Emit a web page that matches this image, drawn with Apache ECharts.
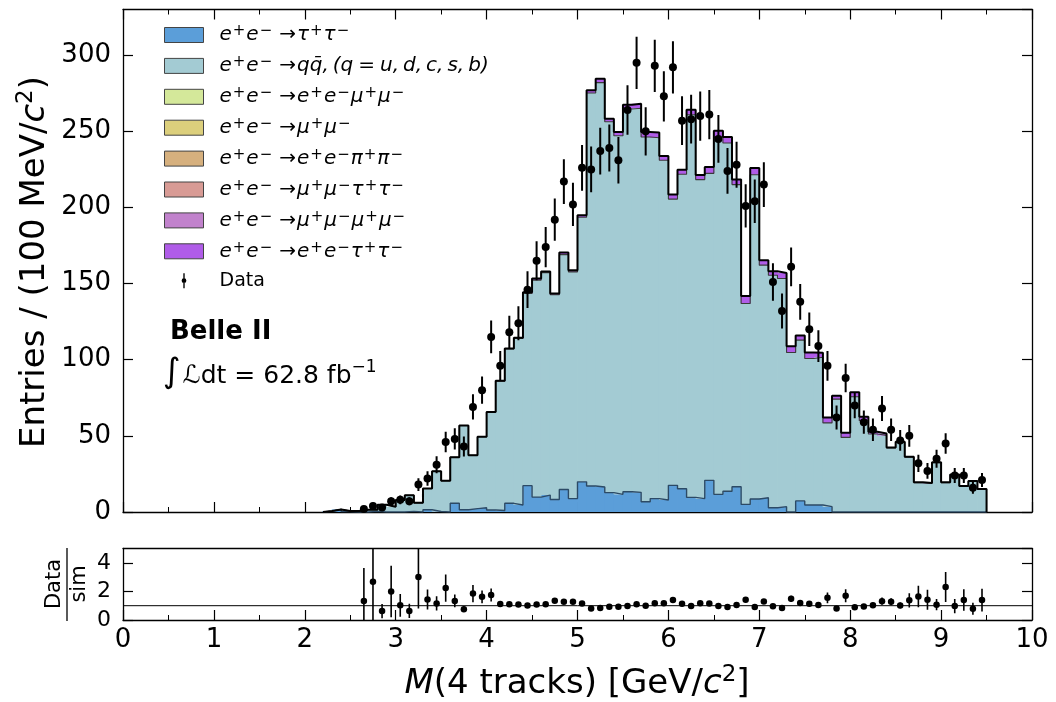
<!DOCTYPE html>
<html><head><meta charset="utf-8">
<script src="https://cdn.jsdelivr.net/npm/echarts@6/dist/echarts.min.js"></script>
<style>html,body{margin:0;padding:0;background:#fff}#c{width:1056px;height:702px}</style>
</head><body><div id="c"></div>
<script>
// ---- bins (lower edges, GeV/c^2), width 0.1 ----
const binLow = [2.2,2.3,2.4,2.5,2.6,2.7,2.8,2.9,
  3.0,3.1,3.2,3.3,3.4,3.5,3.6,3.7,3.8,3.9,
  4.0,4.1,4.2,4.3,4.4,4.5,4.6,4.7,4.8,4.9,
  5.0,5.1,5.2,5.3,5.4,5.5,5.6,5.7,5.8,5.9,
  6.0,6.1,6.2,6.3,6.4,6.5,6.6,6.7,6.8,6.9,
  7.0,7.1,7.2,7.3,7.4,7.5,7.6,7.7,7.8,7.9,
  8.0,8.1,8.2,8.3,8.4,8.5,8.6,8.7,8.8,8.9,
  9.0,9.1,9.2,9.3,9.4];
const binWidth = 0.1;

// ---- simulated components (entries per bin) ----
const tauTau = [0.6,1.7,0.3,0,0,0.4,0,0,
  0,0.4,0,1.5,0.3,0,5.7,1.5,2.2,2.8,
  1.3,1.0,5.7,4.6,17.3,9.8,11.1,8.2,14.8,8.8,
  19.8,17.1,16.4,12.7,11.6,13.3,12.9,6.7,8.8,7.9,
  17.5,15.3,9.6,8.8,20.8,11.6,13.6,16.6,5.0,8.5,
  9.4,2.8,3.5,0,7.3,4.6,4.6,3.5,0,0,
  0,0,0,0,0,0,0,0,0,0,
  0,0,0,0,0];
const qqbar = [0,0,0.3,0.6,1.5,1.1,4.8,3.5,
  7.8,10.6,6.0,13.9,26.5,20.6,30.3,55.3,35.1,46.6,
  64.4,84.9,101.3,109.3,126.2,142.5,146.1,134.5,154.2,148.9,
  173.8,258.1,265.6,243.6,235.5,251.4,252.2,239.6,237.0,223.1,
  188.0,206.5,251.3,209.5,201.6,234.6,228.7,198.4,131.9,213.0,
  152.7,152.7,149.8,104.7,105.6,96.2,97.0,55.0,74.1,49.0,
  75.7,59.9,51.2,50.3,42.0,45.8,36.0,19.3,18.8,32.4,
  19.3,24.5,16.9,20.1,14.9];
const eeMuMu = [0,0,0,0,0,0,0,0,
  0,0,0,0,0,0,0,0,0,0,
  0,0,0,0,0,0,0,0,0,0,
  0,0,0,0,0,0,0,0,0,0,
  0,0,0,0,0,0,0,0,0,0,
  0,0,0,0,0,0,0,0,0,0,
  0,0,0,0,0,0,0,0,0,0,
  0,0,0,0,0];
const muMu = [0,0,0,0,0,0,0,0,
  0,0,0,0,0,0,0,0,0,0,
  0,0,0,0,0,0,0,0,0,0,
  0,0,0,0,0,0,0,0,0,0,
  0,0,0,0,0,0,0,0,0,0,
  0,0,0,0,0,0,0,0,0,0,
  0,0,0,0,0,0,0,0,0,0,
  0,0,0,0,0];
const eePiPi = [0,0,0,0,0,0,0,0,
  0,0,0,0,0,0,0,0,0,0,
  0,0,0,0,0,0,0,0,0,0,
  0,0,0,0,0,0,0,0,0,0,
  0,0,0,0,0,0,0,0,0,0,
  0,0,0,0,0,0,0,0,0,0,
  0,0,0,0,0,0,0,0,0,0,
  0,0,0,0,0];
const muMuTauTau = [0,0,0,0,0,0,0,0,
  0,0,0,0,0,0,0,0,0,0,
  0,0,0,0,0,0,0,0,0,0,
  0,0,0,0,0,0,0,0,0,0,
  0,0,0,0,0,0,0,0,0,0,
  0,0,0,0,0,0,0,0,0,0,
  0,0,0,0,0,0,0,0,0,0,
  0,0,0,0,0];
const muMuMuMu = [0,0,0,0,0,0,0,0,
  0,0,0,0,0,0,0,0,0,0,
  0,0,0,0,0,0,0,0,0,0,
  0,0,0,0,0,0,0,0,0,0,
  0,0,0,0,0,0,0,0,0,0,
  0,0,0,0,0,0,0,0,0,0,
  0,0,0,0,0,0,0,0,0,0,
  0,0,0,0,0];
const eeTauTau = [0,0,0,0,0,0,0,0,
  0,0,0,0,0,0,0,0,0,0,
  0,0.3,0.3,0.5,0.8,1.0,0.8,0.8,1.5,1.0,
  1.2,1.7,2.6,2.0,2.5,2.8,3.0,3.3,3.5,2.8,
  3.0,3.0,3.3,3.0,4.2,4.2,4.0,3.3,5.0,4.4,
  3.3,2.6,3.7,4.2,3.0,4.0,3.0,3.5,2.2,3.0,
  3.0,2.6,1.5,1.3,0.4,0.3,0.3,0.2,0.2,0.2,
  0.2,0.2,0.2,0.2,0.2];

// ---- data (entries per bin) ----
const dataCounts = [null,null,null,null,2,4,3,7,
  8,7,18,22,31,46,48,43,69,80,
  115,96,118,124,146,165,174,192,217,202,
  226,225,237,239,231,264,295,250,293,273,
  292,257,258,260,261,245,224,228,201,204,
  215,151,132,161,138,120,109,96,62,88,
  70,59,54,68,54,47,50,32,27,35,
  45,24,24,16,21];
// ---- uncertainty of data/sim ratio ----
const ratioErr = [null,null,null,null,2.3,2.9,0.5,1.8,
  0.8,0.5,2.2,0.7,0.5,0.95,0.45,0.2,0.6,0.45,
  0.45,0.13,0.12,0.11,0.1,0.1,0.1,0.11,0.1,0.11,
  0.09,0.07,0.07,0.08,0.08,0.08,0.08,0.08,0.09,0.09,
  0.1,0.09,0.08,0.09,0.09,0.08,0.08,0.09,0.18,0.08,
  0.1,0.09,0.09,0.22,0.12,0.13,0.12,0.38,0.12,0.45,
  0.13,0.15,0.18,0.25,0.25,0.2,0.5,0.75,0.7,0.4,
  1.05,0.5,0.75,0.42,0.8];

const xTicks = [0,1,2,3,4,5,6,7,8,9,10];

// ---- layers (bottom to top) ----
const layers = [
  {name:'tautau', vals:tauTau, color:'#5b9ed9', label:'e+e->t+t-'},
  {name:'qq', vals:qqbar, color:'#a3cbd3', label:null},
  {name:'eemumu', vals:eeMuMu, color:'#d4e89a', label:'e+e->e+e-m+m-'},
  {name:'mumu', vals:muMu, color:'#dccf7c', label:'e+e->m+m-'},
  {name:'eepipi', vals:eePiPi, color:'#d6b07e', label:'e+e->e+e-p+p-'},
  {name:'mumutautau', vals:muMuTauTau, color:'#d89b95', label:'e+e->m+m-t+t-'},
  {name:'mumumumu', vals:muMuMuMu, color:'#c182cc', label:'e+e->m+m-m+m-'},
  {name:'eetautau', vals:eeTauTau, color:'#b05ce8', label:'e+e->e+e-t+t-'}
];
const greek = {t:'τ', m:'μ', p:'π'};
function mt(s){
  let out = '';
  for (const ch of s){
    if (ch === '+') out += '{s|+}';
    else if (ch === '-') out += '{s|−}';
    else if (ch === '>') out += '{a|→}';
    else out += '{i|' + (greek[ch] || ch) + '}';
  }
  return out;
}
const legendText = {};
layers.forEach(L => { if (L.label) legendText[L.name] = mt(L.label); });
legendText['qq'] = mt('e+e->') + '{i|qq̄,\u2009(q\u2005=\u2005u,\u2009d,\u2009c,\u2009s,\u2009b)}';
legendText['Data'] = '{n|Data}';

const N = binLow.length;
let running = binLow.map(() => 0);
const cum = [];
layers.forEach(L => {
  const lo = running.slice();
  running = running.map((r, i) => r + L.vals[i]);
  cum.push({lo: lo, hi: running.slice()});
});
const totalSim = running;

function rectSeries(L, k){
  const data = binLow.map((b, i) => [b, b + binWidth, cum[k].lo[i], cum[k].hi[i]]);
  return {
    type:'custom', name:L.name, xAxisIndex:0, yAxisIndex:0, clip:true, silent:true, z:2,
    itemStyle:{color:L.color},
    encode:{x:[0,1], y:[2,3]},
    data:data,
    renderItem:function(params, api){
      const x0 = api.value(0), x1 = api.value(1), y0 = api.value(2), y1 = api.value(3);
      if (!(y1 - y0 > 0)) return {type:'group', children:[]};
      const p0 = api.coord([x0, y1]), p1 = api.coord([x1, y0]);
      return {type:'rect', shape:{x:p0[0]-0.4, y:p0[1], width:p1[0]-p0[0]+0.8, height:p1[1]-p0[1]},
        style:{fill:L.color}};
    }
  };
}
function stepData(tops){
  const d = [[binLow[0], 0]];
  binLow.forEach((b, i) => d.push([b, tops[i]]));
  const end = binLow[N-1] + binWidth;
  d.push([end, tops[N-1]]);
  d.push([end, 0]);
  return d;
}
function stepSeries(tops, color, width, z){
  return {type:'line', step:'end', xAxisIndex:0, yAxisIndex:0, data:stepData(tops), symbol:'none',
    silent:true, z:z, lineStyle:{color:color, width:width}};
}

const dataPts = [], ratioPts = [];
binLow.forEach((b, i) => {
  if (dataCounts[i] == null) return;
  const c = b + binWidth / 2;
  dataPts.push([c, dataCounts[i], Math.sqrt(dataCounts[i])]);
  ratioPts.push([c, dataCounts[i] / totalSim[i], ratioErr[i]]);
});

function errSeries(name, pts, xi, yi, lw){
  return {type:'custom', name:name, xAxisIndex:xi, yAxisIndex:yi, clip:true, silent:true, z:8,
    itemStyle:{color:'#000'}, encode:{x:0, y:1}, data:pts,
    renderItem:function(params, api){
      const x = api.value(0), y = api.value(1), e = api.value(2);
      const a = api.coord([x, y + e]), b = api.coord([x, y - e]);
      return {type:'line', shape:{x1:a[0], y1:a[1], x2:b[0], y2:b[1]}, style:{stroke:'#000', lineWidth:lw}};
    }};
}

const series = [];
layers.forEach((L, k) => series.push(rectSeries(L, k)));
series.push(stepSeries(cum[0].hi, '#2c4a66', 1.4, 4));
series.push(stepSeries(cum[1].hi, '#3a3a3a', 1.1, 4));
series.push(stepSeries(totalSim, '#000', 2, 5));
series.push(errSeries('Data', dataPts, 0, 0, 2));
series.push({type:'scatter', name:'Data', xAxisIndex:0, yAxisIndex:0, data:dataPts.map(p => [p[0], p[1]]),
  symbol:'circle', symbolSize:8, itemStyle:{color:'#000', opacity:1}, silent:true, z:9});
series.push({type:'line', xAxisIndex:2, yAxisIndex:2, data:[[0,1],[10,1]], symbol:'none', silent:true,
  lineStyle:{color:'#000', width:1}, z:3});
series.push(errSeries('ratioErr', ratioPts, 2, 2, 1.6));
series.push({type:'scatter', name:'ratio', xAxisIndex:2, yAxisIndex:2, data:ratioPts.map(p => [p[0], p[1]]),
  symbol:'circle', symbolSize:6.5, itemStyle:{color:'#000', opacity:1}, silent:true, z:9, clip:true});

const FONT = 'DejaVu Sans';
const axisLine = {show:true, onZero:false, lineStyle:{color:'#000', width:1.3}};
function xAx(grid, pos, labels, ticks){
  return {type:'value', gridIndex:grid, position:pos, min:xTicks[0], max:xTicks[xTicks.length-1], interval:1,
    axisLine:axisLine, splitLine:{show:false},
    axisTick:{show:ticks, inside:true, length:10, lineStyle:{color:'#000', width:1.2}},
    minorTick:{show:ticks, splitNumber:2, length:5, lineStyle:{color:'#000', width:1}},
    axisLabel:{show:labels, fontFamily:FONT, fontSize:26, color:'#000', margin:7}};
}
function yAx(grid, pos, max, interval, labels, fs){
  return {type:'value', gridIndex:grid, position:pos, min:0, max:max, interval:interval,
    axisLine:axisLine, splitLine:{show:false},
    axisTick:{show:true, inside:true, length:10, lineStyle:{color:'#000', width:1.2}},
    axisLabel:{show:labels, fontFamily:FONT, fontSize:fs, color:'#000', margin:12, showMaxLabel:false}};
}

const legendRich = {
  i:{fontFamily:FONT, fontStyle:'italic', fontSize:20, lineHeight:22, color:'#000'},
  a:{fontFamily:FONT, fontSize:20, lineHeight:22, color:'#000', padding:[0,1,0,6]},
  s:{fontFamily:FONT, fontSize:15, color:'#000', verticalAlign:'top', padding:[0,1,0,1]},
  n:{fontFamily:FONT, fontSize:19, lineHeight:22, color:'#000'}
};
const legendData = layers.map(L => ({name:L.name, icon:'rect',
  itemStyle:{color:L.color, borderColor:'#444', borderWidth:1}}));
legendData.push({name:'Data', icon:'path://M2,0L4,0L4,22L2,22Z M3,7.5A3.5,3.5 0 1,1 3,14.5A3.5,3.5 0 1,1 3,7.5Z',
  itemStyle:{color:'#000', borderWidth:0}});

const titleRich = {
  n:{fontFamily:FONT, fontSize:34, fill:'#000', lineHeight:40},
  i:{fontFamily:FONT, fontStyle:'italic', fontSize:34, fill:'#000', lineHeight:40},
  s:{fontFamily:FONT, fontSize:23, fill:'#000', verticalAlign:'top'}
};

const option = {
  animation:false,
  backgroundColor:'#fff',
  grid:[{left:123, top:9.5, width:909, height:502.5}, {left:123, top:548.5, width:909, height:71.5}],
  xAxis:[xAx(0,'bottom',false,true), xAx(0,'top',false,true), xAx(1,'bottom',true,true), xAx(1,'top',false,false)],
  yAxis:[yAx(0,'left',330,50,true,26), yAx(0,'right',330,50,false,26), yAx(1,'left',5,2,true,22), yAx(1,'right',5,2,false,22)],
  legend:{orient:'vertical', left:164, top:24, padding:0, itemWidth:39, itemHeight:15, itemGap:9.9, selectedMode:false,
    formatter:function(name){ return legendText[name] || name; },
    textStyle:{fontFamily:FONT, fontSize:19, color:'#000', padding:[0,0,0,11], rich:legendRich},
    data:legendData},
  graphic:[
    {type:'text', left:170, top:319, style:{text:'Belle II', fontFamily:FONT, fontWeight:'bold', fontSize:26, fill:'#000'}},
    {type:'text', left:163, top:356, style:{text:'{g|∫}{n|ℒdt = 62.8 fb}{s|−1}',
      rich:{g:{fontFamily:FONT, fontSize:34, fill:'#000', lineHeight:40},
            n:{fontFamily:FONT, fontSize:25, fill:'#000', lineHeight:40, padding:[6,0,0,2]},
            s:{fontFamily:FONT, fontSize:17, fill:'#000', verticalAlign:'top', padding:[6,0,0,0]}}}},
    {type:'text', x:35, y:262, rotation:Math.PI/2, style:{text:'{n|Entries / (100 MeV/}{i|c}{s|2}{n|)}', align:'center', verticalAlign:'middle',
      rich:titleRich}},
    {type:'text', x:577, y:684, style:{text:'{i|M}{n|(4 tracks) [GeV/}{i|c}{s|2}{n|]}', align:'center', verticalAlign:'middle',
      rich:titleRich}},
    {type:'text', x:55, y:584, rotation:Math.PI/2, style:{text:'Data', fontFamily:FONT, fontSize:21, fill:'#000', align:'center', verticalAlign:'middle'}},
    {type:'line', shape:{x1:67, y1:548, x2:67, y2:621}, style:{stroke:'#000', lineWidth:1.3}},
    {type:'text', x:80, y:584, rotation:Math.PI/2, style:{text:'sim', fontFamily:FONT, fontSize:21, fill:'#000', align:'center', verticalAlign:'middle'}}
  ],
  series:series
};
const chart = echarts.init(document.getElementById('c'), null, {renderer:'canvas', width:1056, height:702});
chart.setOption(option);
</script>
</body></html>
